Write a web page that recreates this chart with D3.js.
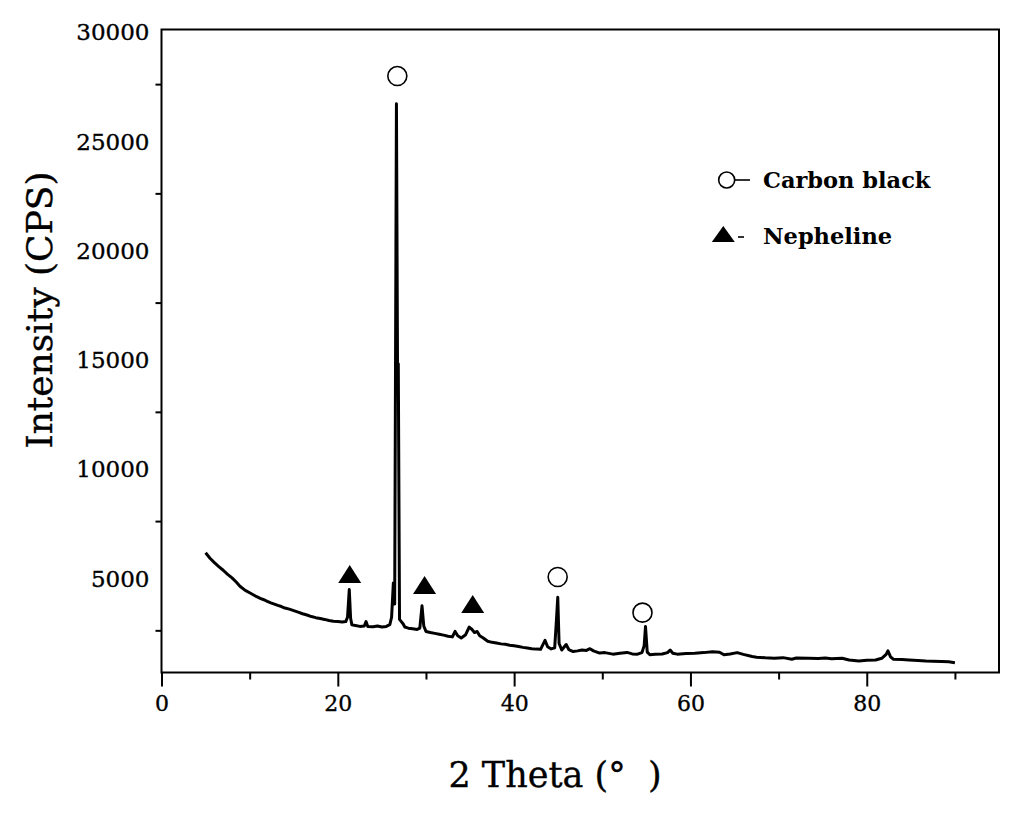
<!DOCTYPE html>
<html>
<head>
<meta charset="utf-8">
<script src="https://cdn.jsdelivr.net/npm/d3@7"></script>
<style>
  html, body { margin: 0; padding: 0; background: #fff; }
  svg { display: block; }
  text { font-family: "DejaVu Serif", "Liberation Serif", serif; fill: #000; stroke: #000; stroke-width: 0.35px; }
</style>
</head>
<body>
<svg id="chart" width="1024" height="817"></svg>
<script>
// ---- data ----
const twoTheta = [
  5.0, 5.5, 6.0, 6.5, 7.0, 7.5, 8.0, 8.5, 8.9, 9.5, 10.0, 10.4, 10.8,
  11.2, 11.6, 12.0, 12.4, 12.8, 13.2, 13.6, 14.0, 14.5, 15.0, 15.5, 16.0, 16.5, 17.0,
  17.5, 18.0, 18.5, 19.0, 19.5, 20.0, 20.5, 20.9, 21.1, 21.3, 21.45, 21.6, 22.0, 22.5,
  23.0, 23.2, 23.4, 24.0, 24.5, 25.0, 25.5, 25.9, 26.1, 26.3, 26.45, 26.65, 26.78, 26.86, 27.0,
  27.2, 27.4, 27.6, 28.0, 28.5, 29.0, 29.3, 29.55, 29.75, 30.0, 30.5, 31.0, 31.5, 32.0,
  32.5, 33.0, 33.3, 33.6, 34.0, 34.5, 34.9, 35.2, 35.5, 35.8, 36.1, 36.5, 37.0, 37.5,
  38.0, 38.5, 39.0, 39.5, 40.0, 40.5, 41.0, 41.5, 42.0, 42.5, 43.0, 43.5, 43.8, 44.2,
  44.6, 44.8, 44.95, 45.1, 45.4, 45.9, 46.2, 46.7, 47.2, 47.7, 48.2, 48.6, 49.0, 49.7,
  50.3, 51.2, 52.0, 52.8, 53.4, 54.0, 54.5, 54.75, 54.9, 55.1, 55.4, 56.0, 56.8, 57.4,
  57.7, 58.0, 58.5, 59.5, 60.5, 61.5, 62.5, 63.3, 63.8, 64.5, 65.3, 66.0, 67.0, 67.5,
  68.5, 69.5, 70.5, 71.5, 72.0, 73.4, 74.5, 75.3, 76.0, 77.2, 78.0, 79.1, 80.0, 81.0,
  81.7, 82.2, 82.4, 82.7, 83.0, 84.0, 84.8, 85.8, 86.7, 87.5, 88.5, 89.3, 90.0
];
const intensity = [
  6050, 5800, 5600, 5420, 5250, 5060, 4900, 4700, 4520, 4330, 4220, 4130, 4040,
  3960, 3900, 3830, 3760, 3700, 3640, 3590, 3520, 3470, 3400, 3330, 3260, 3200, 3130,
  3080, 3040, 3000, 2950, 2920, 2900, 2880, 2900, 3100, 4370, 3050, 2750, 2720, 2680,
  2700, 2900, 2680, 2660, 2700, 2650, 2680, 2760, 3100, 4670, 3700, 26600, 13800, 14700, 3000,
  2900, 2800, 2650, 2600, 2570, 2540, 2600, 3620, 2700, 2450, 2400, 2360, 2320, 2280,
  2230, 2200, 2450, 2250, 2150, 2300, 2650, 2550, 2400, 2450, 2250, 2150, 2000, 1950,
  1920, 1880, 1860, 1820, 1790, 1760, 1720, 1690, 1660, 1640, 1630, 2040, 1750, 1650,
  1700, 2975, 4010, 1900, 1600, 1850, 1620, 1530, 1560, 1600, 1580, 1660, 1560, 1460,
  1480, 1410, 1450, 1490, 1420, 1410, 1480, 1800, 2670, 1500, 1380, 1400, 1420, 1480,
  1600, 1450, 1410, 1440, 1450, 1480, 1520, 1500, 1380, 1420, 1480, 1400, 1300, 1270,
  1240, 1220, 1250, 1180, 1230, 1220, 1210, 1230, 1200, 1220, 1140, 1100, 1130, 1140,
  1220, 1400, 1560, 1290, 1180, 1160, 1140, 1120, 1100, 1090, 1070, 1060, 1020
];

// peak markers
const carbonX = [26.75, 44.94, 54.56];
const carbonY = [27870, 4940, 3310];
const nephX = [21.35, 29.84, 35.3];
const nephY = [5080, 4577, 3707];

// axes
const xDomain = [0, 95];
const yDomain = [570, 30000];
const xLabelTicks = [0, 20, 40, 60, 80];
const xMinorTicks = [10, 30, 50, 70, 90];
const yLabelTicks = [5000, 10000, 15000, 20000, 25000, 30000];
const yMinorTicks = [2500, 7500, 12500, 17500, 22500, 27500];

const legendItems = ["Carbon black", "Nepheline"];
const xTitle = "2 Theta (°\u00a0\u00a0)";
const yTitle = "Intensity (CPS)";

// ---- drawing ----
const svg = d3.select("#chart");
const pLeft = 161.5, pTop = 29.5, pRight = 999, pBottom = 672.5;

const x = d3.scaleLinear().domain(xDomain).range([pLeft, pRight]);
const y = d3.scaleLinear().domain(yDomain).range([pBottom, pTop]);

// x axis ticks (major labeled)
const gx = svg.append("g").attr("transform", `translate(0,${pBottom})`);
gx.call(d3.axisBottom(x).tickValues(xLabelTicks).tickSize(14).tickPadding(12).tickFormat(d3.format("d")))
  .call(g => g.select(".domain").remove());
gx.selectAll(".tick line").attr("stroke", "#000").attr("stroke-width", 2);
gx.selectAll(".tick text").attr("font-size", 22).attr("font-family", "DejaVu Serif").attr("fill", "#000").attr("dy", "0.55em");

const gxm = svg.append("g").attr("transform", `translate(0,${pBottom})`);
gxm.call(d3.axisBottom(x).tickValues(xMinorTicks).tickSize(7).tickFormat(""))
  .call(g => g.select(".domain").remove());
gxm.selectAll(".tick line").attr("stroke", "#000").attr("stroke-width", 2);

// y axis: labels without ticks, minor ticks between
const gy = svg.append("g").attr("transform", `translate(${pLeft},0)`);
gy.call(d3.axisLeft(y).tickValues(yLabelTicks).tickSize(0).tickPadding(12).tickFormat(d3.format("d")))
  .call(g => g.select(".domain").remove());
gy.selectAll(".tick text").attr("font-size", 23).attr("font-family", "DejaVu Serif").attr("fill", "#000").attr("dy", "0.45em");

const gym = svg.append("g").attr("transform", `translate(${pLeft},0)`);
gym.call(d3.axisLeft(y).tickValues(yMinorTicks).tickSize(6).tickFormat(""))
  .call(g => g.select(".domain").remove());
gym.selectAll(".tick line").attr("stroke", "#000").attr("stroke-width", 2);

// frame
svg.append("rect")
  .attr("x", pLeft).attr("y", pTop)
  .attr("width", pRight - pLeft).attr("height", pBottom - pTop)
  .attr("fill", "none").attr("stroke", "#000").attr("stroke-width", 2);

// spectrum line
const pts = twoTheta.map((t, i) => [t, intensity[i]]);
svg.append("path")
  .datum(pts)
  .attr("fill", "none")
  .attr("stroke", "#000")
  .attr("stroke-width", 3)
  .attr("stroke-linejoin", "round")
  .attr("d", d3.line().x(d => x(d[0])).y(d => y(d[1])));

// markers
const triPath = (cx, cy, w, h) => `M${cx - w / 2},${cy + h / 2}L${cx},${cy - h / 2}L${cx + w / 2},${cy + h / 2}Z`;
svg.append("g").selectAll("circle")
  .data(carbonX.map((v, i) => [v, carbonY[i]]))
  .join("circle")
  .attr("cx", d => x(d[0])).attr("cy", d => y(d[1])).attr("r", 9.5)
  .attr("fill", "#fff").attr("stroke", "#000").attr("stroke-width", 1.6);

svg.append("g").selectAll("path")
  .data(nephX.map((v, i) => [v, nephY[i]]))
  .join("path")
  .attr("d", d => triPath(x(d[0]), y(d[1]), 23, 18))
  .attr("fill", "#000");

// legend
const lg = svg.append("g");
lg.append("circle").attr("cx", 726.7).attr("cy", 180).attr("r", 8)
  .attr("fill", "#fff").attr("stroke", "#000").attr("stroke-width", 1.6);
lg.append("line").attr("x1", 734.7).attr("x2", 750).attr("y1", 180).attr("y2", 180)
  .attr("stroke", "#000").attr("stroke-width", 1.6);
lg.append("text").attr("x", 763).attr("y", 188).attr("font-size", 22.5).attr("font-weight", "bold")
  .style("stroke-width", "0px")
  .text(legendItems[0]);
lg.append("path").attr("d", triPath(723.3, 234, 23, 16)).attr("fill", "#000");
lg.append("line").attr("x1", 738).attr("x2", 744).attr("y1", 237).attr("y2", 237)
  .attr("stroke", "#000").attr("stroke-width", 1.6);
lg.append("text").attr("x", 763).attr("y", 244).attr("font-size", 22.5).attr("font-weight", "bold")
  .style("stroke-width", "0px")
  .text(legendItems[1]);

// axis titles
svg.append("text")
  .attr("x", 555).attr("y", 787)
  .attr("text-anchor", "middle").attr("font-size", 35)
  .text(xTitle);
svg.append("text")
  .attr("transform", "translate(52,310) rotate(-90)")
  .attr("text-anchor", "middle").attr("font-size", 36)
  .text(yTitle);
</script>
</body>
</html>
